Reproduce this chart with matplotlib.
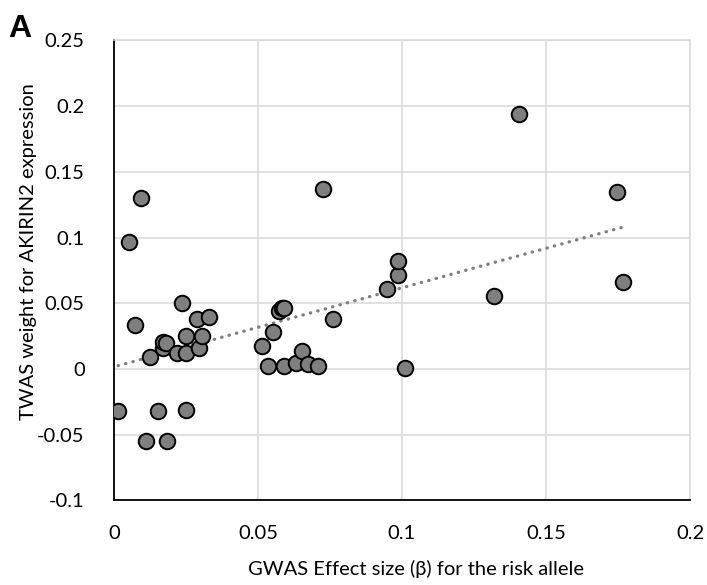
import numpy as np
import matplotlib
matplotlib.use("Agg")
import matplotlib.pyplot as plt

plt.rcParams['font.family'] = ['Lato', 'DejaVu Sans']

# GWAS effect size (x) and TWAS weight (y)
gwas_beta = [0.0015, 0.0052, 0.0073, 0.0096, 0.0110, 0.0127, 0.0155, 0.0171,
             0.0172, 0.0182, 0.0186, 0.0218, 0.0237, 0.0250, 0.0252, 0.0252,
             0.0290, 0.0294, 0.0307, 0.0331, 0.0513, 0.0534, 0.0551, 0.0575,
             0.0582, 0.0590, 0.0591, 0.0632, 0.0653, 0.0673, 0.0710, 0.0725,
             0.0760, 0.0947, 0.0987, 0.0987, 0.1010, 0.1320, 0.1406, 0.1745,
             0.1766]
twas_weight = [-0.0320, 0.0964, 0.0335, 0.1304, -0.0546, 0.0089, -0.0322, 0.0157,
               0.0205, 0.0195, -0.0546, 0.0124, 0.0500, 0.0248, 0.0119, -0.0312,
               0.0380, 0.0157, 0.0254, 0.0398, 0.0172, 0.0023, 0.0278, 0.0444,
               0.0465, 0.0468, 0.0023, 0.0048, 0.0138, 0.0038, 0.0025, 0.1367,
               0.0380, 0.0607, 0.0715, 0.0824, 0.0010, 0.0556, 0.1943, 0.1347,
               0.0662]

x_ticks = [0, 0.05, 0.1, 0.15, 0.2]
x_ticklabels = ['0', '0.05', '0.1', '0.15', '0.2']
y_ticks = [-0.1, -0.05, 0, 0.05, 0.1, 0.15, 0.2, 0.25]
y_ticklabels = ['-0.1', '-0.05', '0', '0.05', '0.1', '0.15', '0.2', '0.25']

x = np.array(gwas_beta)
y = np.array(twas_weight)

fig = plt.figure(figsize=(7.07, 5.85), dpi=100)
ax = fig.add_axes([0.161, 0.1446, 0.815, 0.7862])

ax.scatter(x, y, s=125, c='#7f7f7f', edgecolors='black', linewidths=1.4, zorder=3)

# linear trendline (Excel style)
coef = np.polyfit(x, y, 1)
xt = np.array([x.min(), x.max()])
ax.plot(xt, np.polyval(coef, xt), color='#808080', lw=2.4,
        linestyle=(0, (0.1, 2.2)), dash_capstyle='round', zorder=2)

ax.set_xlim(0, 0.2)
ax.set_ylim(-0.1, 0.25)
ax.set_xticks(x_ticks)
ax.set_xticklabels(x_ticklabels)
ax.set_yticks(y_ticks)
ax.set_yticklabels(y_ticklabels)
ax.tick_params(length=0, labelsize=14.5, colors='black')
ax.tick_params(axis='x', pad=18)
ax.tick_params(axis='y', pad=21)
ax.grid(color='#d9d9d9', lw=1.1)
ax.set_axisbelow(True)
for s in ['top', 'right']:
    ax.spines[s].set_color('#d9d9d9')
    ax.spines[s].set_linewidth(1.1)
for s in ['left', 'bottom']:
    ax.spines[s].set_color('black')
    ax.spines[s].set_linewidth(1.3)

ax.set_xlabel('GWAS Effect size (β) for the risk allele', fontsize=14.5)
ax.set_ylabel('TWAS weight for AKIRIN2 expression', fontsize=14.5)
ax.xaxis.set_label_coords(0.525, -0.13)
ax.yaxis.set_label_coords(-0.133, 0.54)

fig.text(0.012, 0.936, 'A', fontsize=23, fontweight='bold',
         family=['Liberation Sans', 'DejaVu Sans'])

fig.savefig('out.png', dpi=100)
